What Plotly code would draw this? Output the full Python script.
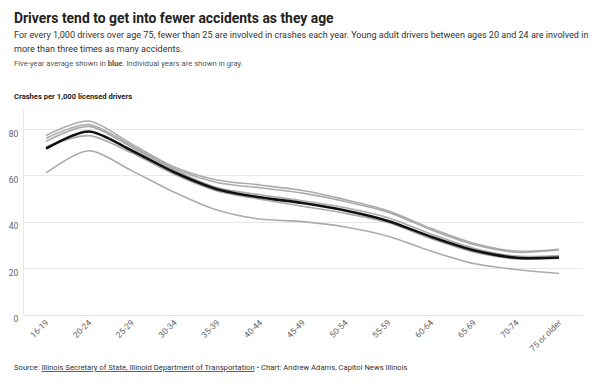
import plotly.graph_objects as go

categories = ["16-19", "20-24", "25-29", "30-34", "35-39", "40-44", "45-49",
              "50-54", "55-59", "60-64", "65-69", "70-74", "75 or older"]

year_a = [77.5, 83.7, 73.8, 63.9, 58.3, 56.1, 53.7, 49.8, 45.0, 37.4, 31.0, 27.6, 28.4]
year_b = [76.3, 82.2, 73.0, 63.2, 57.2, 54.9, 52.6, 49.0, 44.4, 36.8, 30.4, 27.1, 28.1]
year_c = [75.0, 81.4, 72.4, 62.6, 55.0, 51.9, 49.3, 46.3, 42.0, 35.0, 28.8, 25.4, 25.7]
year_d = [72.6, 77.4, 70.0, 60.7, 53.5, 50.0, 46.9, 43.9, 39.9, 33.0, 27.2, 24.2, 24.4]
year_e = [61.3, 70.9, 62.3, 53.0, 45.3, 41.4, 40.3, 38.0, 34.0, 27.6, 22.2, 19.6, 17.9]
five_year_avg = [71.8, 79.2, 71.0, 61.6, 54.3, 50.8, 48.3, 45.1, 40.6, 33.8, 27.9, 24.7, 24.8]

y_ticks = [0, 20, 40, 60, 80]

FONT = "Roboto, sans-serif"

fig = go.Figure()
for ys in [year_a, year_b, year_c, year_d, year_e]:
    fig.add_trace(go.Scatter(x=categories, y=ys, mode="lines",
                             line=dict(color="#ababab", width=1.6, shape="spline", smoothing=0.8),
                             hoverinfo="skip", showlegend=False))
fig.add_trace(go.Scatter(x=categories, y=five_year_avg, mode="lines",
                         line=dict(color="#111111", width=2.6, shape="spline", smoothing=0.8),
                         showlegend=False))

L, R, T, B = 24, 17, 109, 69
W, H = 600, 384
pw, ph = W - L - R, H - T - B

def px(x):
    return (x - L) / pw

def py(y):
    return (H - B - y) / ph

fig.update_layout(
    width=W, height=H,
    margin=dict(l=L, r=R, t=T, b=B, pad=0),
    paper_bgcolor="white", plot_bgcolor="white",
    font=dict(family=FONT, color="#333"),
    xaxis=dict(type="category", range=[-0.515, 12.56], showgrid=False, zeroline=False,
               showline=False, ticks="", tickangle=-45, automargin=False,
               tickfont=dict(size=8.5, color="#666")),
    yaxis=dict(range=[0, 88.9], tickvals=y_ticks, showgrid=True, gridcolor="#e8e8e8",
               gridwidth=1, zeroline=True, zerolinecolor="#e3e3e3", zerolinewidth=1,
               showline=True, linecolor="#e6e6e6", linewidth=1, ticks="", automargin=False,
               ticklabelstandoff=3, ticklabelshift=4,
               tickfont=dict(size=8.5, color="#666")),
)

ann = [
    (12, 18, "<b>Drivers tend to get into fewer accidents as they age</b>", 13.9, "#222"),
    (12, 35, "For every 1,000 drivers over age 75, fewer than 25 are involved in crashes each year. Young adult drivers between ages 20 and 24 are involved in", 9.05, "#333"),
    (12, 49, "more than three times as many accidents.", 9.05, "#333"),
    (12, 63, "Five-year average shown in <b>blue</b>. Individual years are shown in gray.", 7.7, "#555"),
    (12, 96, "<b>Crashes per 1,000 licensed drivers</b>", 7.6, "#222"),
    (12, 367, "Source: <u>Illinois Secretary of State, Illinoid Department of Transportation</u> \u2022 Chart: Andrew Adams, Capitol News Illinois", 7.65, "#333"),
]
for x, y, t, s, c in ann:
    fig.add_annotation(x=px(x), y=py(y), xref="paper", yref="paper", text=t,
                       showarrow=False, xanchor="left", yanchor="middle", align="left",
                       font=dict(size=s, color=c, family=FONT))

fig.write_html("out.html", config={"displayModeBar": False},
               post_script="document.body.style.margin='0';")
